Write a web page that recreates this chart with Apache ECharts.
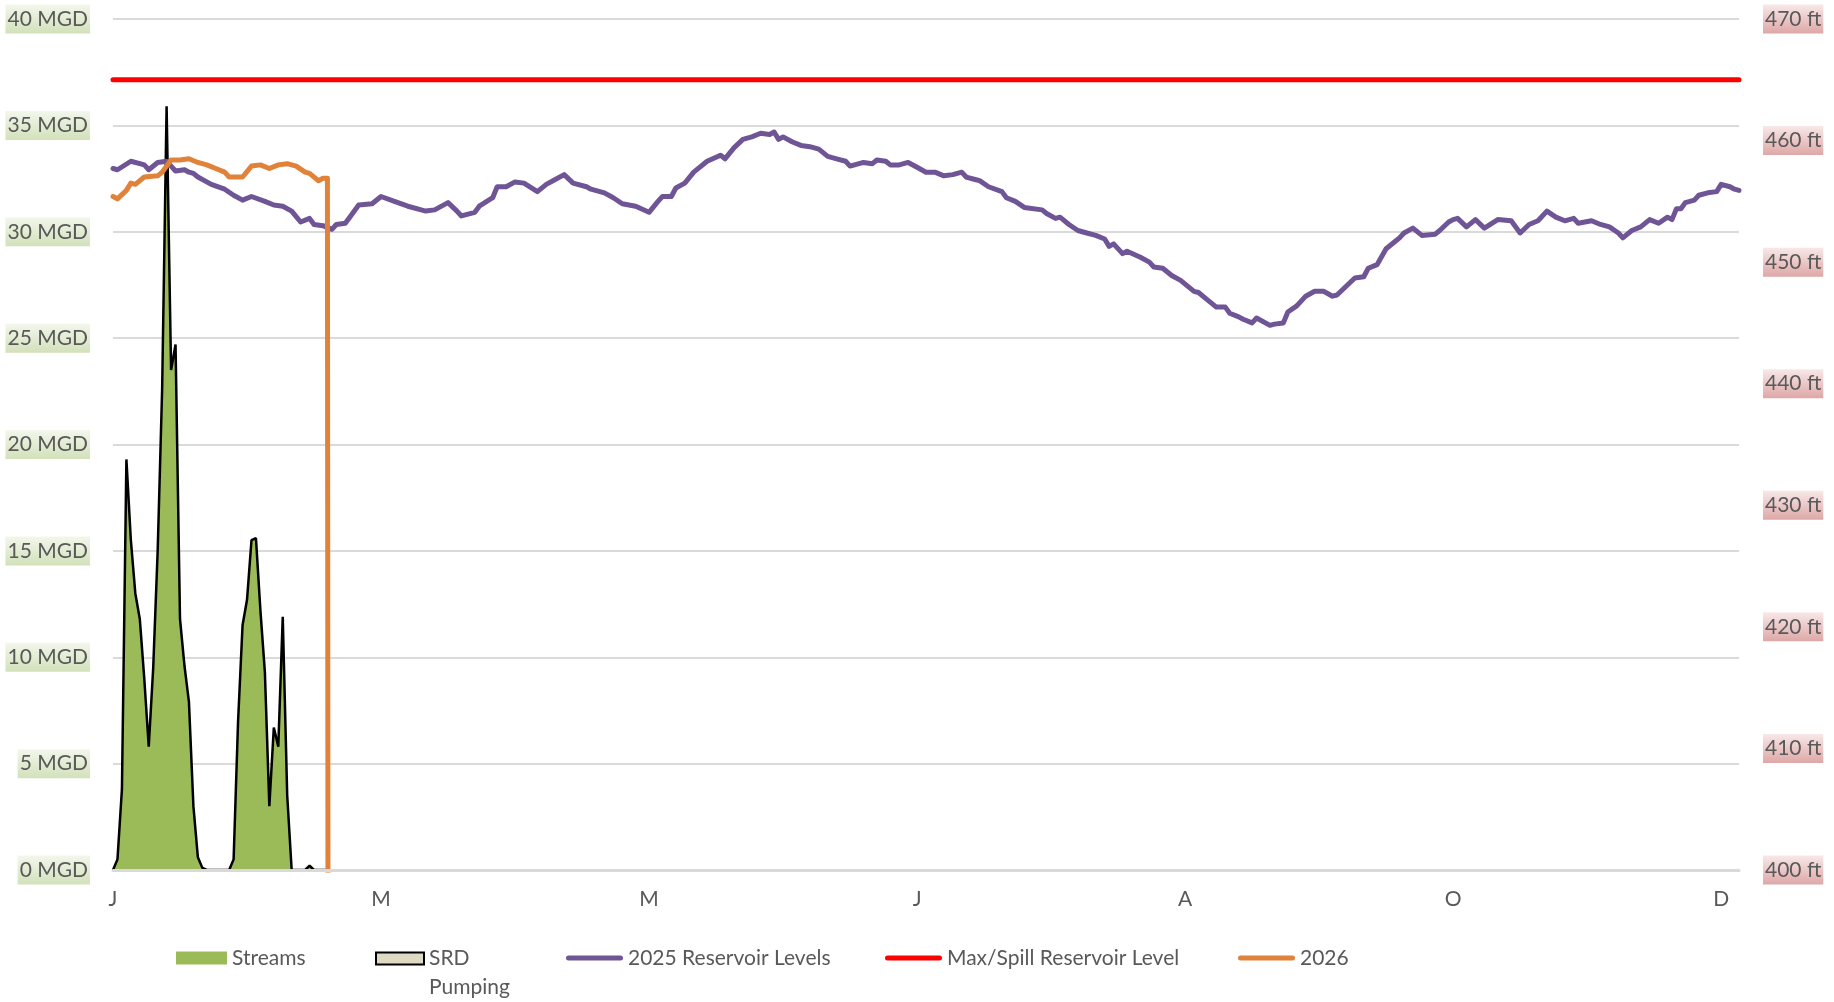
<!DOCTYPE html>
<html>
<head>
<meta charset="utf-8">
<script src="https://cdn.jsdelivr.net/npm/echarts@6/dist/echarts.min.js"></script>
<style>
html,body{margin:0;padding:0;background:#ffffff;}
#chart{width:1834px;height:1002px;}
</style>
</head>
<body>
<div id="chart"></div>
<script>
// ---- Categories (daily, one year) ----
const monthNames = ['Jan','Feb','Mar','Apr','May','Jun','Jul','Aug','Sep','Oct','Nov','Dec'];
const monthLengths = [31,28,31,30,31,30,31,31,30,31,30,31];
const categories = [];
for (let m = 0; m < 12; m++) {
  for (let d = 1; d <= monthLengths[m]; d++) categories.push(monthNames[m] + ' ' + d);
}
const labelStep = 60;

// ---- Streams (MGD, left axis), daily from Jan 1 ----
const streamsValues = [
  0, 0.5, 3.8, 19.3, 15.5, 13.0, 11.8, 9.0, 5.8, 9.5,
  15.0, 22.6, 35.9, 23.5, 24.7, 11.8, 9.6, 7.9, 3.0, 0.6,
  0.1, 0, 0, 0, 0, 0, 0, 0.5, 7.0, 11.5,
  12.7, 15.5, 15.6, 12.2, 9.3, 3.0, 6.7, 5.8, 11.9, 3.5,
  0, 0, 0, 0, 0.2, 0, 0, 0, 0
];

// ---- SRD Pumping (MGD) ----
const srdValues = [];

// ---- 2025 Reservoir Levels (ft, right axis) ----
const res2025Days = [
  0,1,4,6,7,8,10,12,13,14,16,17,18,19,22,25,27,29,31,34,
  36,38,40,42,44,45,47,49,50,52,53,55,58,60,63,66,69,70,72,75,
  77,78,81,82,85,86,88,90,92,95,97,99,101,103,106,107,110,112,114,117,
  120,122,123,125,126,128,130,133,136,137,139,141,143,145,147,148,149,150,152,154,
  156,158,160,162,164,165,168,170,171,173,174,176,178,180,182,184,186,188,190,191,
  193,194,196,199,200,202,204,208,209,211,212,214,216,218,220,222,223,224,226,227,
  230,232,233,235,237,239,242,243,245,247,249,250,252,253,255,256,259,260,262,263,
  265,267,269,271,273,274,276,278,280,281,283,285,287,288,289,291,293,296,297,299,
  300,301,303,305,307,310,313,315,317,319,321,323,325,327,328,331,333,335,337,338,
  340,342,344,346,348,349,350,351,352,354,355,357,359,360,362,363,364
];
const res2025Values = [
  457.7,457.6,458.3,458.1,458.0,457.6,458.2,458.3,457.9,457.5,457.6,457.4,457.3,457.0,456.4,456.0,455.5,455.1,455.4,455.0,
  454.7,454.6,454.2,453.3,453.6,453.1,453.0,452.7,453.1,453.2,453.7,454.7,454.8,455.4,455.0,454.6,454.3,454.2,454.3,454.9,
  454.2,453.8,454.1,454.6,455.3,456.2,456.2,456.6,456.5,455.8,456.4,456.8,457.2,456.5,456.2,456.0,455.7,455.3,454.8,454.6,
  454.1,455.0,455.4,455.4,456.1,456.5,457.4,458.3,458.8,458.5,459.4,460.1,460.3,460.6,460.5,460.7,460.1,460.3,459.9,459.6,
  459.5,459.3,458.7,458.5,458.3,457.9,458.2,458.1,458.4,458.3,458.0,458.0,458.2,457.8,457.4,457.4,457.1,457.2,457.4,457.0,
  456.8,456.7,456.2,455.8,455.3,455.0,454.5,454.3,454.0,453.6,453.7,453.1,452.6,452.4,452.2,451.9,451.3,451.5,450.7,450.9,
  450.4,450.0,449.6,449.5,448.9,448.5,447.6,447.5,446.9,446.3,446.3,445.8,445.5,445.3,445.0,445.4,444.8,444.9,445.0,445.9,
  446.4,447.2,447.6,447.6,447.2,447.3,448.0,448.7,448.8,449.5,449.8,451.1,451.7,452.0,452.4,452.8,452.2,452.3,452.6,453.3,
  453.5,453.6,452.9,453.5,452.8,453.5,453.4,452.4,453.1,453.4,454.2,453.7,453.4,453.6,453.2,453.4,453.1,452.9,452.4,452.0,
  452.6,452.9,453.5,453.2,453.7,453.5,454.4,454.4,454.9,455.1,455.5,455.7,455.8,456.4,456.2,456.0,455.9
];

// ---- Max/Spill Reservoir Level (ft) ----
const maxSpillDays = [0, 364];
const maxSpillValues = [465, 465];

// ---- 2026 (ft, right axis) ----
const res2026Days = [0,1,3,4,5,7,10,11,13,15,17,19,21,23,25,26,29,31,33,35,37,39,41,43,44,46,47,48,49];
const res2026Values = [455.4,455.2,455.9,456.5,456.4,457.0,457.1,457.4,458.4,458.4,458.5,458.2,458.0,457.7,457.4,457.0,457.0,457.9,458.0,457.7,458.0,458.1,457.9,457.4,457.3,456.7,456.9,456.9,0];

// ---- Axis ticks ----
const leftAxis = {min: 0, max: 40, interval: 5, unit: 'MGD'};
const rightAxis = {min: 400, max: 470, interval: 10, unit: 'ft'};

const pairs = (xs, ys) => xs.map((x, i) => [x, ys[i]]);

const FONT = 'Lato';
const TXT = '#595959';
const greenBg = {type:'linear', x:0, y:0, x2:0, y2:1, colorStops:[{offset:0,color:'#F3F7EC'},{offset:1,color:'#D2E1BA'}]};
const pinkBg = {type:'linear', x:0, y:0, x2:0, y2:1, colorStops:[{offset:0,color:'#F8E8E8'},{offset:1,color:'#DEA7A7'}]};
const lineIcon = 'path://M2.5 0L54.5 0A2.5 2.5 0 0 1 54.5 5L2.5 5A2.5 2.5 0 0 1 2.5 0Z';
const legendText = {color: TXT, fontFamily: FONT, fontSize: 21, lineHeight: 24};

const chart = echarts.init(document.getElementById('chart'), null, {renderer: 'canvas'});
chart.setOption({
  animation: false,
  backgroundColor: '#ffffff',
  grid: {left: 113, right: 95, top: 19, bottom: 132, containLabel: false, outerBoundsMode: 'none'},
  xAxis: {
    type: 'category', data: categories, boundaryGap: false, z: 5,
    axisLine: {show: true, lineStyle: {color: '#D9D9D9', width: 3}},
    axisTick: {show: false},
    splitLine: {show: false},
    axisLabel: {interval: (idx) => idx % labelStep === 0, hideOverlap: false,
      formatter: v => v.charAt(0), color: TXT, fontFamily: FONT, fontSize: 21, margin: 19}
  },
  yAxis: [
    {
      type: 'value', position: 'left', min: leftAxis.min, max: leftAxis.max, interval: leftAxis.interval,
      axisLine: {show: false}, axisTick: {show: false},
      splitLine: {show: true, lineStyle: {color: '#DADADA', width: 2}},
      axisLabel: {formatter: '{value} ' + leftAxis.unit, color: TXT, fontFamily: FONT, fontSize: 21, lineHeight: 24,
        padding: [3, 2, 2, 2], backgroundColor: greenBg, margin: 23}
    },
    {
      type: 'value', position: 'right', min: rightAxis.min, max: rightAxis.max, interval: rightAxis.interval,
      axisLine: {show: false}, axisTick: {show: false},
      splitLine: {show: false},
      axisLabel: {formatter: '{value} ' + rightAxis.unit, color: TXT, fontFamily: FONT, fontSize: 21, lineHeight: 24,
        padding: [3, 2, 2, 2], backgroundColor: pinkBg, margin: 24}
    }
  ],
  legend: [
    {data: [{name: 'Streams', icon: 'rect', itemStyle: {color: '#9BBB59', borderWidth: 0}}],
     left: 176, top: 946, padding: 0, itemWidth: 51, itemHeight: 13, textStyle: legendText},
    {data: [{name: 'SRD Pumping', icon: 'rect', itemStyle: {color: '#DDD9C3', borderColor: '#000000', borderWidth: 2}}],
     left: 375, top: 915, padding: 0, itemWidth: 48, itemHeight: 12, formatter: () => '\nSRD\nPumping',
     textStyle: {color: TXT, fontFamily: FONT, fontSize: 21, lineHeight: 29}},
    {data: [{name: '2025 Reservoir Levels', icon: lineIcon, itemStyle: {color: '#6F5596', borderWidth: 0}}],
     left: 566, top: 946, padding: 0, itemWidth: 57, itemHeight: 5, textStyle: legendText},
    {data: [{name: 'Max/Spill Reservoir Level', icon: lineIcon, itemStyle: {color: '#FF0000', borderWidth: 0}}],
     left: 885, top: 946, padding: 0, itemWidth: 57, itemHeight: 5, textStyle: legendText},
    {data: [{name: '2026', icon: lineIcon, itemStyle: {color: '#E0823A', borderWidth: 0}}],
     left: 1238, top: 946, padding: 0, itemWidth: 57, itemHeight: 5, textStyle: legendText}
  ],
  series: [
    {name: 'Streams', type: 'line', yAxisIndex: 0, data: streamsValues, symbol: 'none', color: '#9BBB59',
     lineStyle: {color: '#000000', width: 2.5}, areaStyle: {color: '#9BBB59', opacity: 1}, z: 2},
    {name: 'SRD Pumping', type: 'line', yAxisIndex: 0, data: srdValues, symbol: 'none', color: '#DDD9C3',
     lineStyle: {color: '#000000', width: 2.5}, areaStyle: {color: '#DDD9C3', opacity: 1}, z: 2},
    {name: '2025 Reservoir Levels', type: 'line', yAxisIndex: 1, data: pairs(res2025Days, res2025Values), symbol: 'none',
     color: '#6F5596', lineStyle: {color: '#6F5596', width: 5, cap: 'round', join: 'round'}, z: 3},
    {name: 'Max/Spill Reservoir Level', type: 'line', yAxisIndex: 1, data: pairs(maxSpillDays, maxSpillValues), symbol: 'none',
     color: '#FF0000', lineStyle: {color: '#FF0000', width: 5, cap: 'round'}, z: 3},
    {name: '2026', type: 'line', yAxisIndex: 1, data: pairs(res2026Days, res2026Values), symbol: 'none', clip: true,
     color: '#E0823A', lineStyle: {color: '#E0823A', width: 5, cap: 'round', join: 'round'}, z: 3}
  ]
});
</script>
</body>
</html>
